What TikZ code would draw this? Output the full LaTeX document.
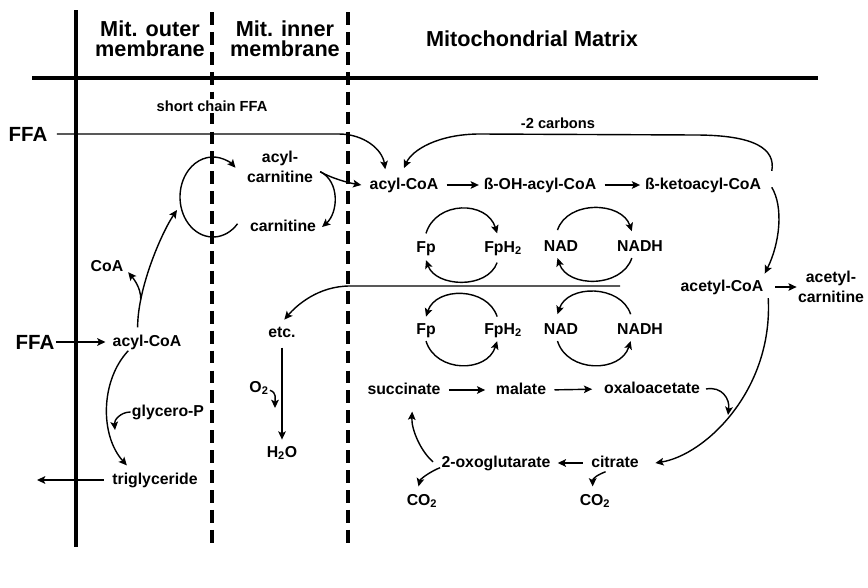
\documentclass[tikz,border=0pt]{standalone}
\usepackage{fontspec}
\setmainfont{Liberation Sans}
\usepackage{tikz}
\usetikzlibrary{arrows.meta}

\begin{document}
\begin{tikzpicture}[
    x=0.03cm, y=-0.03cm,
    lbl/.style={font=\fontsize{13.5}{15.5}\selectfont\bfseries, inner sep=1pt, text height=9.7pt, text depth=2.8pt},
    lbltwo/.style={font=\fontsize{13.5}{16.5}\selectfont\bfseries, inner sep=1pt, align=center},
    note/.style={font=\fontsize{12.5}{14}\selectfont\bfseries, inner sep=1pt},
    head/.style={font=\fontsize{18.5}{17.5}\selectfont\bfseries, align=center, inner sep=0pt},
    big/.style={font=\fontsize{17.5}{19}\selectfont\bfseries, inner sep=1pt},
    wall/.style={line width=2.6pt},
    membr/.style={line width=2.6pt, dash pattern=on 11pt off 6pt},
    flow/.style={line width=1.2pt, -{Stealth[length=7pt,width=6.5pt,inset=1.5pt]}},
    react/.style={flow, shorten <=6pt, shorten >=3pt}
]
    \useasboundingbox (0,0) rectangle (868,587);

    % Membranes
    \draw[wall] (76,10) -- (76,547);
    \draw[membr] (212,12) -- (212,545);
    \draw[membr] (348,12) -- (348,545);
    \draw[wall] (32,78) -- (818,78);

    % Headings
    \node[head] (hdrOuter) at (150,39) {Mit. outer\\membrane};
    \node[head] (hdrInner) at (285,39) {Mit. inner\\membrane};
    \node[head] (hdrMatrix) at (532,39) {Mitochondrial Matrix};

    % Beta oxidation
    \node[note, fill=white] (shortFFA) at (212,106) {short chain FFA};
    \node[note] (carbons) at (558,123) {-2 carbons};
    \node[big] (ffaTop) at (28,134) {FFA};
    \node[lbl] (acylM) at (404,185) {acyl-CoA};
    \node[lbl] (bOH) at (540,185) {ß-OH-acyl-CoA};
    \node[lbl] (bKeto) at (703,185) {ß-ketoacyl-CoA};
    \node[lbl] (acetylCoA) at (722,287) {acetyl-CoA};
    \node[lbltwo] (acetylCarn) at (831,287) {acetyl-\\carnitine};

    % Carriers
    \node[lbl] (fpA) at (426,248) {Fp};
    \node[lbl] (fphA) at (503,248) {FpH\textsubscript{2}};
    \node[lbl] (nadA) at (561,247) {NAD};
    \node[lbl] (nadhA) at (640,247) {NADH};
    \node[lbl] (fpB) at (426,330) {Fp};
    \node[lbl] (fphB) at (503,330) {FpH\textsubscript{2}};
    \node[lbl] (nadB) at (561,330) {NAD};
    \node[lbl] (nadhB) at (640,330) {NADH};

    % Citric acid cycle
    \node[lbl] (succ) at (404,390) {succinate};
    \node[lbl] (malate) at (521,390) {malate};
    \node[lbl] (oxalo) at (652,389) {oxaloacetate};
    \node[lbl] (citrate) at (615,463) {citrate};
    \node[lbl] (oxoglut) at (496,463) {2-oxoglutarate};
    \node[lbl] (coTwoA) at (422,501) {CO\textsubscript{2}};
    \node[lbl] (coTwoB) at (595,501) {CO\textsubscript{2}};

    % Inner membrane
    \node[lbltwo] (acylCarn) at (280,167) {acyl-\\carnitine};
    \node[lbl] (carnitine) at (283,227) {carnitine};
    \node[lbl] (etc) at (282,333) {etc.};
    \node[lbl] (oTwo) at (259,388) {O\textsubscript{2}};
    \node[lbl] (water) at (282,453) {H\textsubscript{2}O};

    % Outer membrane
    \node[lbl] (coaOut) at (107,267) {CoA};
    \node[big] (ffaLow) at (35,342) {FFA};
    \node[lbl] (acylOut) at (147,342) {acyl-CoA};
    \node[lbl] (glyceroP) at (168,412) {glycero-P};
    \node[lbl] (trigly) at (155,480) {triglyceride};

    % Free ends
    \coordinate (carnCycle) at (213,197);
    \coordinate (cycIn) at (177,210);
    \coordinate (gpEnd) at (115,430);
    \coordinate (trgEnd) at (37,480);
    \coordinate (oEnd) at (275,408);
    \coordinate (sepEnd) at (620,286);
    \coordinate (oaEnd) at (728,415);

    % Matrix arrows
    \draw[flow, shorten <=7pt] (ffaTop.east) -- ++(290,0) .. controls +(25,0) and +(-3,-20) .. ([xshift=-16pt,yshift=6pt]acylM.north);
    \draw[flow] ([xshift=8pt,yshift=12pt]bKeto.east) .. controls +(4,-22) and +(60,0) .. (695,135) -- (480,134) .. controls +(-42,0) and +(8,-18) .. ([yshift=7pt]acylM.north);
    \draw[react] (acylM.east) -- (bOH.west);
    \draw[react] (bOH.east) -- (bKeto.west);
    \draw[flow] ([xshift=8pt,yshift=-2pt]bKeto.east) .. controls +(12,20) and +(15,-30) .. ([yshift=4pt]acetylCoA.north east);
    \draw[flow, shorten <=9pt] (acetylCoA.east) -- (acetylCarn.west);

    \draw[flow] ([yshift=5pt]fpA.north) .. controls +(10,-33) and +(-10,-33) .. ([xshift=-5pt,yshift=5pt]fphA.north);
    \draw[flow] ([xshift=-5pt,yshift=-5pt]fphA.south) .. controls +(-10,27) and +(10,27) .. ([yshift=-3pt]fpA.south);
    \draw[flow] ([xshift=-3pt,yshift=7pt]nadA.north) .. controls +(10,-30) and +(-10,-30) .. ([xshift=-7pt,yshift=6pt]nadhA.north);
    \draw[flow] ([xshift=-7pt,yshift=-2pt]nadhA.south) .. controls +(-10,30) and +(10,30) .. ([xshift=-3pt,yshift=-2pt]nadA.south);
    \draw[flow] ([xshift=-5pt,yshift=4pt]fphB.north) .. controls +(-10,-30) and +(10,-30) .. ([yshift=4pt]fpB.north);
    \draw[flow] ([yshift=-2pt]fpB.south) .. controls +(10,32) and +(-10,32) .. ([xshift=-5pt,yshift=-2pt]fphB.south);
    \draw[flow] ([xshift=-8pt,yshift=6pt]nadhB.north) .. controls +(-10,-30) and +(10,-30) .. ([xshift=-3pt,yshift=6pt]nadB.north);
    \draw[flow] ([xshift=-3pt,yshift=-2pt]nadB.south) .. controls +(10,32) and +(-10,32) .. ([xshift=-8pt,yshift=-2pt]nadhB.south);

    \draw[react, shorten >=8pt] (succ.east) -- (malate.west);
    \draw[react, shorten >=9pt] (malate.east) -- (oxalo.west);
    \draw[flow] ([xshift=4pt]oxalo.east) .. controls +(16,-3) and +(2,-16) .. (oaEnd);
    \draw[flow] ([xshift=3pt,yshift=-2pt]acetylCoA.south east) .. controls +(5,92) and +(50,-8) .. ([xshift=13pt]citrate.east);
    \draw[react, shorten >=5pt] (citrate.west) -- (oxoglut.east);
    \draw[flow] ([xshift=-8pt]citrate.south) .. controls +(-8,3) and +(0,-8) .. ([xshift=-2pt,yshift=5pt]coTwoB.north);
    \draw[flow] ([yshift=-4pt]oxoglut.west) .. controls +(-8,3) and +(2,-8) .. ([xshift=-3pt,yshift=5pt]coTwoA.north);
    \draw[flow] ([xshift=-6pt,yshift=1pt]oxoglut.west) .. controls +(-12,-10) and +(-1,18) .. ([xshift=7pt,yshift=-11pt]succ.south);

    % Inner membrane arrows
    \draw[flow] ([shift={(42:33 and 40)}]carnCycle) arc[start angle=42, end angle=313, x radius=33, y radius=40];
    \draw[flow] ([xshift=5pt,yshift=-4pt]acylCarn.east) .. controls +(12,7) and +(-12,-2) .. ([xshift=-6pt]acylM.west);
    \draw[flow] ([xshift=5pt,yshift=-4pt]acylCarn.east) .. controls +(20,10) and +(16,-14) .. ([xshift=4pt]carnitine.east);
    \draw[flow] (sepEnd) -- (350,286) .. controls +(-32,0) and +(12,-14) .. ([xshift=2pt,yshift=4pt]etc.north);
    \draw[flow, shorten <=5pt, shorten >=4pt] (etc.south) -- (water.north);
    \draw[flow] ([yshift=-2pt]oTwo.east) .. controls +(7,2) and +(0,-9) .. (oEnd);

    % Outer membrane arrows
    \draw[flow, shorten >=5pt] (ffaLow.east) -- (acylOut.west);
    \draw[flow] ([xshift=-8pt,yshift=5pt]acylOut.north) .. controls +(0,-40) and +(-15,22) .. (cycIn) coordinate[pos=0.22] (coaFork);
    \draw[flow] (coaFork) .. controls +(0,-12) and +(5,6) .. ([xshift=3pt,yshift=3pt]coaOut.south east);
    \draw[flow] ([xshift=-16pt]acylOut.south) .. controls +(-28,30) and +(-27,-30) .. ([xshift=-24pt,yshift=5pt]trigly.north);
    \draw[flow] (glyceroP.west) .. controls +(-10,0) and +(-1,-10) .. (gpEnd);
    \draw[flow, shorten <=6pt] (trigly.west) -- (trgEnd);

\end{tikzpicture}
\end{document}
